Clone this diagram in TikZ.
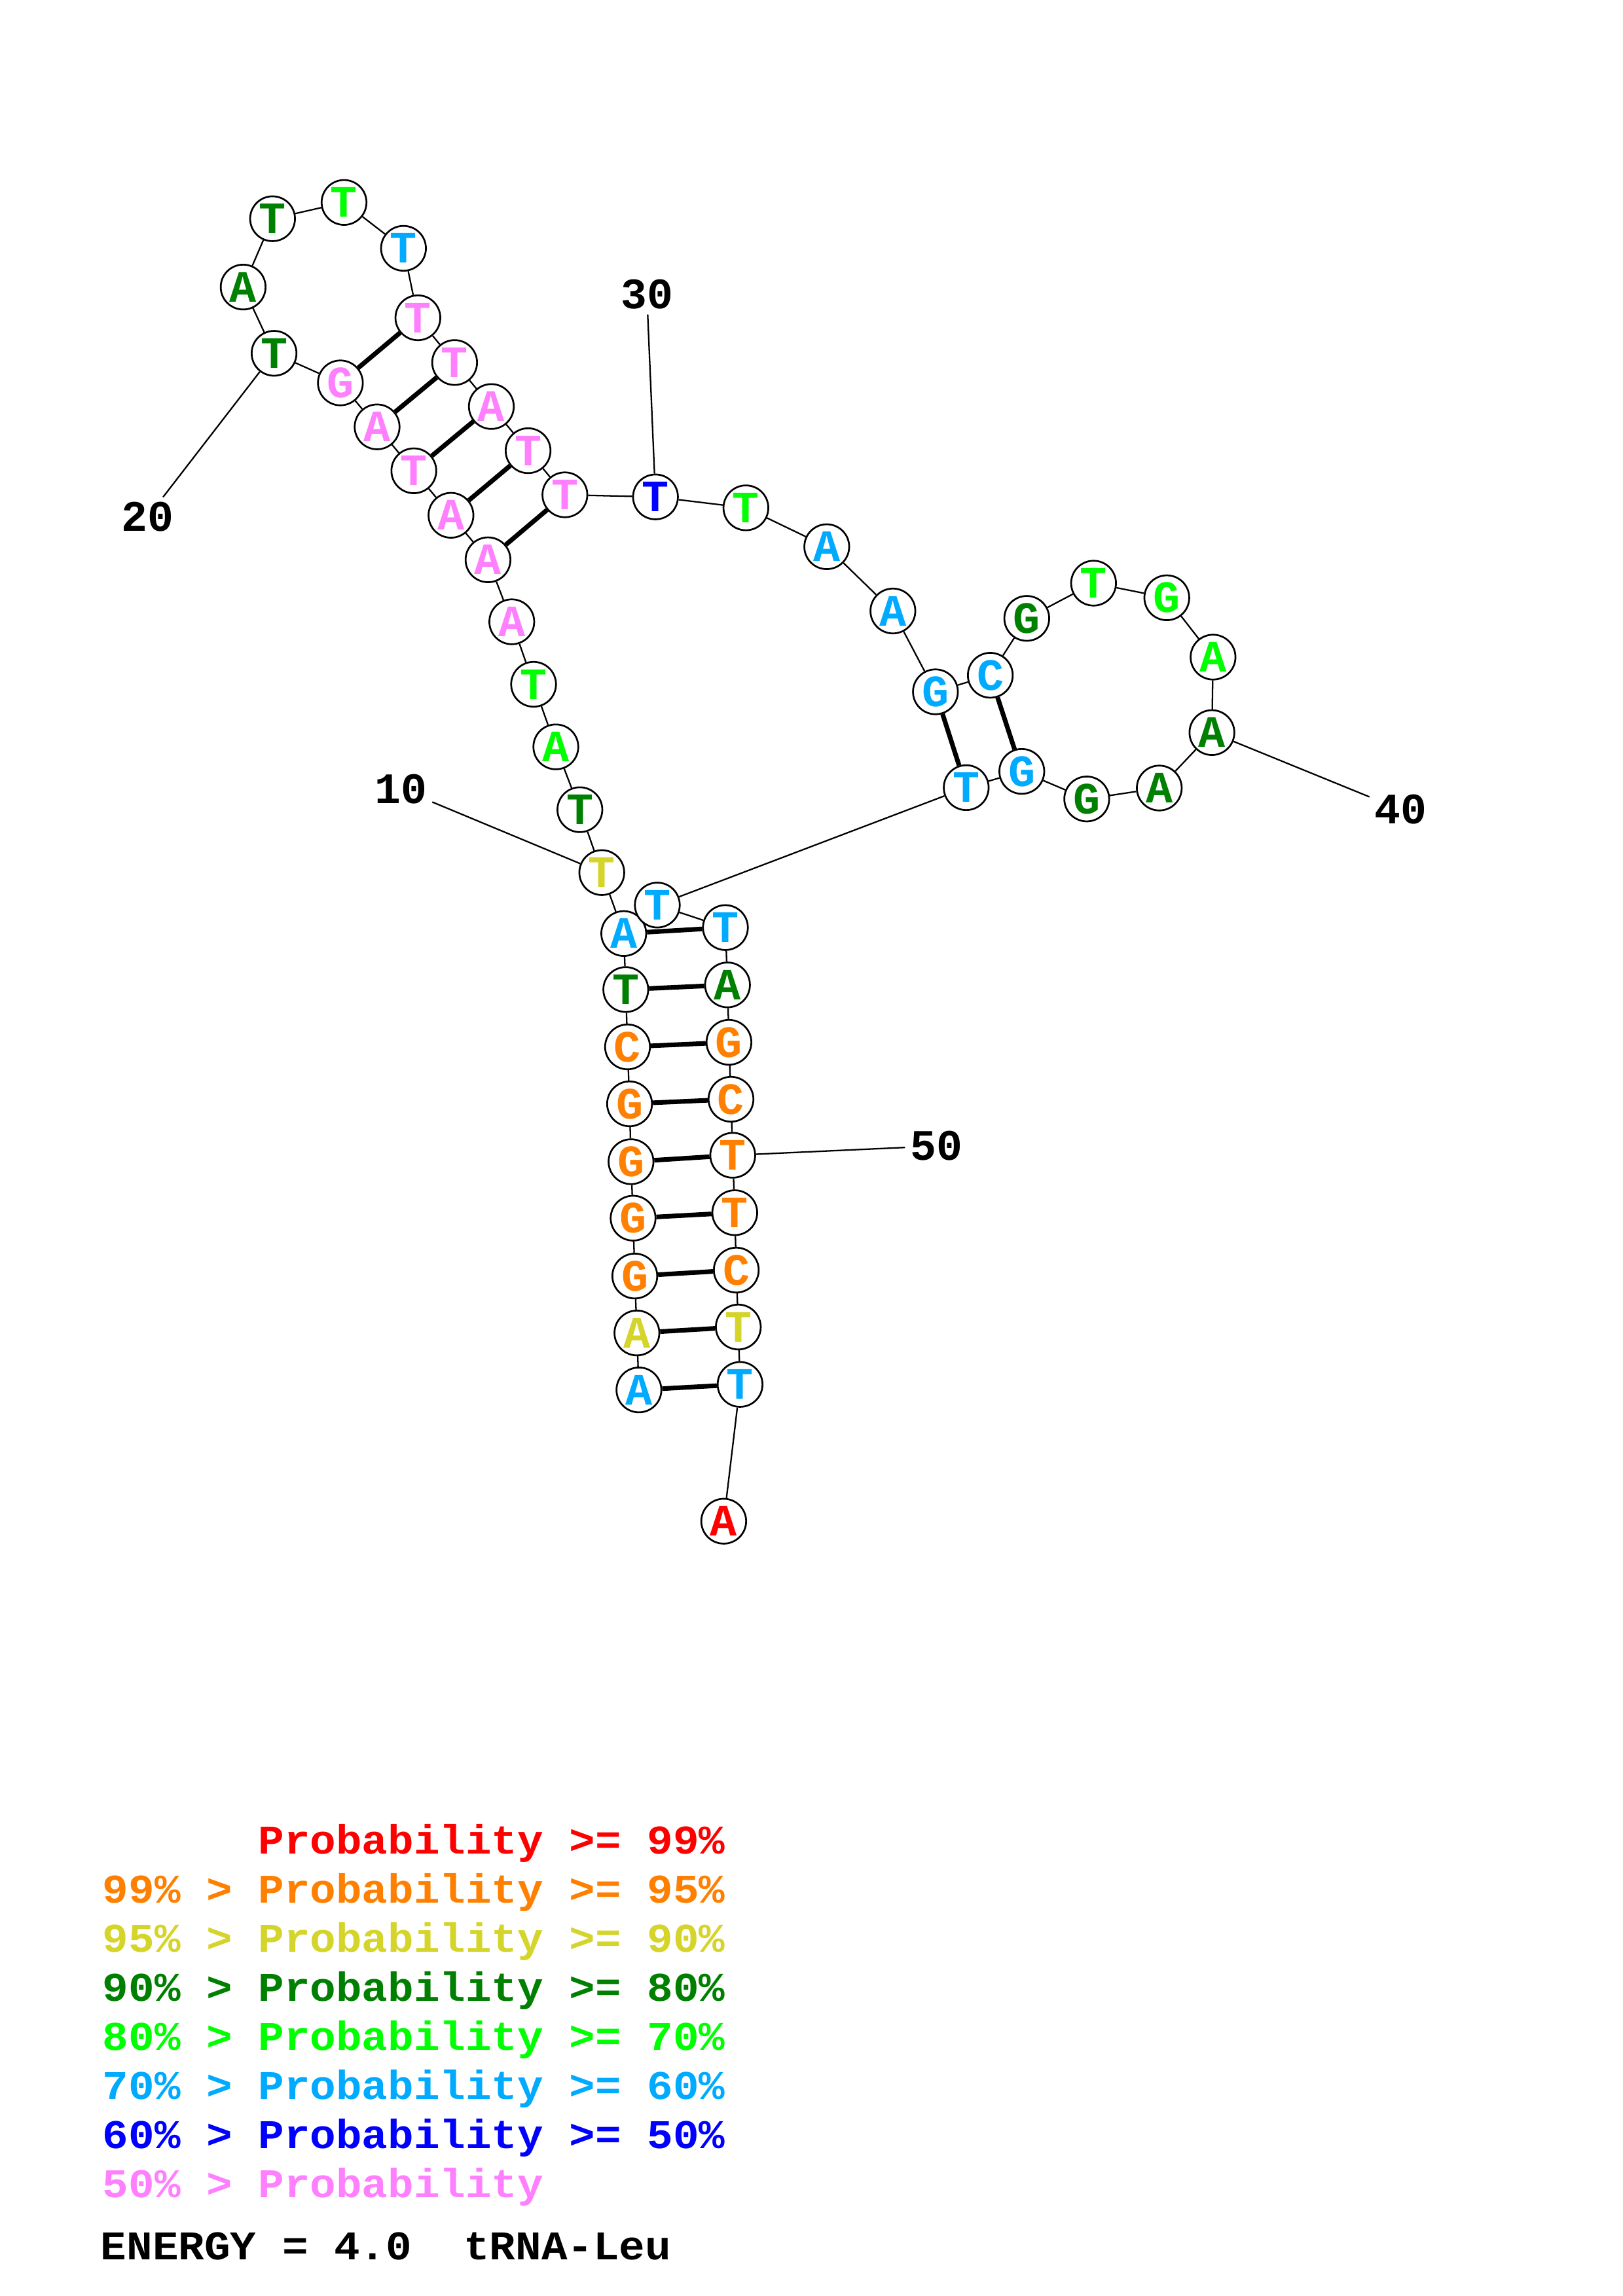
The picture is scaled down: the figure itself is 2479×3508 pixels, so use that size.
\documentclass[tikz,border=0pt]{standalone}
\usepackage{fontspec}
\usetikzlibrary{backgrounds}

\newfontfamily\rnafont{Liberation Mono}
\newfontfamily\legfont[FakeStretch=1.06]{Liberation Mono}

\definecolor{pA}{RGB}{255,0,0}
\definecolor{pB}{RGB}{255,128,0}
\definecolor{pC}{RGB}{212,212,42}
\definecolor{pD}{RGB}{0,128,0}
\definecolor{pE}{RGB}{0,255,0}
\definecolor{pF}{RGB}{0,170,255}
\definecolor{pG}{RGB}{0,0,255}
\definecolor{pH}{RGB}{255,128,255}

\tikzset{
	nt/.style={circle, draw, fill=white, line width=0.65pt, minimum size=5.8mm, inner sep=0pt,
		font=\rnafont\bfseries\fontsize{16.5pt}{16.5pt}\selectfont},
	backbone/.style={line width=0.55pt},
	basepair/.style={line width=1.7pt},
	numlabel/.style={inner sep=0.6mm, font=\rnafont\bfseries\fontsize{16pt}{16pt}\selectfont},
	legline/.style={anchor=base west, inner sep=0pt, font=\legfont\bfseries\fontsize{15pt}{15pt}\selectfont}
}

\begin{document}
\begin{tikzpicture}[x=0.084667mm, y=-0.084667mm]
		\useasboundingbox (0,0) rectangle (2479,3508);
		
		% acceptor stem, 5' side
		\node [nt, text=pF] (n1) at (975.9, 2123.6) {A};
		\node [nt, text=pC] (n2) at (972.8, 2036.6) {A};
		\node [nt, text=pB] (n3) at (969.6, 1949.6) {G};
		\node [nt, text=pB] (n4) at (967.0, 1861.2) {G};
		\node [nt, text=pB] (n5) at (963.8, 1774.9) {G};
		\node [nt, text=pB] (n6) at (961.6, 1686.5) {G};
		\node [nt, text=pB] (n7) at (958.5, 1599.5) {C};
		\node [nt, text=pD] (n8) at (955.8, 1511.9) {T};
		\node [nt, text=pF] (n9) at (952.7, 1426.3) {A};
		\node [nt, text=pC] (n10) at (919.2, 1333.2) {T};
		\node [nt, text=pD] (n11) at (885.7, 1237.1) {T};
		\node [nt, text=pE] (n12) at (849.0, 1141.1) {A};
		\node [nt, text=pE] (n13) at (815.0, 1045.5) {T};
		\node [nt, text=pH] (n14) at (781.7, 950.0) {A};
		% D arm
		\node [nt, text=pH] (n15) at (745.4, 855.3) {A};
		\node [nt, text=pH] (n16) at (688.8, 787.3) {A};
		\node [nt, text=pH] (n17) at (632.1, 719.3) {T};
		\node [nt, text=pH] (n18) at (576.0, 652.2) {A};
		\node [nt, text=pH] (n19) at (519.9, 585.0) {G};
		\node [nt, text=pD] (n20) at (418.6, 539.8) {T};
		\node [nt, text=pD] (n21) at (371.4, 438.6) {A};
		\node [nt, text=pD] (n22) at (416.3, 334.2) {T};
		\node [nt, text=pE] (n23) at (525.5, 309.3) {T};
		\node [nt, text=pF] (n24) at (616.3, 379.4) {T};
		\node [nt, text=pH] (n25) at (638.3, 485.5) {T};
		\node [nt, text=pH] (n26) at (694.4, 553.9) {T};
		\node [nt, text=pH] (n27) at (750.5, 621.1) {A};
		\node [nt, text=pH] (n28) at (806.6, 688.6) {T};
		\node [nt, text=pH] (n29) at (862.8, 756.0) {T};
		% loop to the T arm
		\node [nt, text=pG] (n30) at (1001.2, 759.2) {T};
		\node [nt, text=pE] (n31) at (1139.3, 775.9) {T};
		\node [nt, text=pF] (n32) at (1262.8, 835.3) {A};
		\node [nt, text=pF] (n33) at (1363.8, 933.5) {A};
		\node [nt, text=pF] (n34) at (1428.8, 1057.0) {G};
		\node [nt, text=pF] (n35) at (1512.6, 1031.7) {C};
		\node [nt, text=pD] (n36) at (1568.3, 944.8) {G};
		\node [nt, text=pE] (n37) at (1670.3, 891.0) {T};
		\node [nt, text=pE] (n38) at (1782.2, 913.3) {G};
		\node [nt, text=pE] (n39) at (1852.8, 1004.0) {A};
		\node [nt, text=pD] (n40) at (1851.1, 1119.3) {A};
		\node [nt, text=pD] (n41) at (1770.7, 1204.0) {A};
		\node [nt, text=pD] (n42) at (1659.9, 1220.7) {G};
		\node [nt, text=pF] (n43) at (1560.7, 1178.6) {G};
		\node [nt, text=pF] (n44) at (1475.8, 1203.4) {T};
		% acceptor stem, 3' side
		\node [nt, text=pF] (n45) at (1004.0, 1382.8) {T};
		\node [nt, text=pF] (n46) at (1108.0, 1417.2) {T};
		\node [nt, text=pD] (n47) at (1111.2, 1504.8) {A};
		\node [nt, text=pB] (n48) at (1113.4, 1592.5) {G};
		\node [nt, text=pB] (n49) at (1116.5, 1679.5) {C};
		\node [nt, text=pB] (n50) at (1119.2, 1765.1) {T};
		\node [nt, text=pB] (n51) at (1122.3, 1852.8) {T};
		\node [nt, text=pB] (n52) at (1124.6, 1940.5) {C};
		\node [nt, text=pC] (n53) at (1127.7, 2027.5) {T};
		\node [nt, text=pF] (n54) at (1130.4, 2115.2) {T};
		\node [nt, text=pA] (n55) at (1105.4, 2324.2) {A};
		
		\node [numlabel] (lab10) at (612.5, 1205.5) {10};
		\node [numlabel] (lab20) at (225.5, 790.0) {20};
		\node [numlabel] (lab30) at (988.0, 450.0) {30};
		\node [numlabel] (lab40) at (2139.5, 1237.0) {40};
		\node [numlabel] (lab50) at (1430.0, 1751.0) {50};
		
		\begin{scope}[on background layer]
		\draw [backbone] (n1) -- (n2) -- (n3) -- (n4) -- (n5) -- (n6) -- (n7) -- (n8) -- (n9) -- (n10)
			-- (n11) -- (n12) -- (n13) -- (n14) -- (n15) -- (n16) -- (n17) -- (n18) -- (n19) -- (n20)
			-- (n21) -- (n22) -- (n23) -- (n24) -- (n25) -- (n26) -- (n27) -- (n28) -- (n29) -- (n30)
			-- (n31) -- (n32) -- (n33) -- (n34) -- (n35) -- (n36) -- (n37) -- (n38) -- (n39) -- (n40)
			-- (n41) -- (n42) -- (n43) -- (n44) -- (n45) -- (n46) -- (n47) -- (n48) -- (n49) -- (n50)
			-- (n51) -- (n52) -- (n53) -- (n54) -- (n55);
		\draw [basepair] (n1) -- (n54);
		\draw [basepair] (n2) -- (n53);
		\draw [basepair] (n3) -- (n52);
		\draw [basepair] (n4) -- (n51);
		\draw [basepair] (n5) -- (n50);
		\draw [basepair] (n6) -- (n49);
		\draw [basepair] (n7) -- (n48);
		\draw [basepair] (n8) -- (n47);
		\draw [basepair] (n9) -- (n46);
		\draw [basepair] (n15) -- (n29);
		\draw [basepair] (n16) -- (n28);
		\draw [basepair] (n17) -- (n27);
		\draw [basepair] (n18) -- (n26);
		\draw [basepair] (n19) -- (n25);
		\draw [basepair] (n34) -- (n44);
		\draw [basepair] (n35) -- (n43);
		\draw [backbone] (n10) -- (lab10);
		\draw [backbone] (n20) -- (lab20);
		\draw [backbone] (n30) -- (lab30);
		\draw [backbone] (n40) -- (lab40);
		\draw [backbone] (n50) -- (lab50);
		\end{scope}
		
		% legend
		\node [legline, text=pA] (leg1) at (156, 2832) {\hphantom{99\% > }Probability >= 99\%};
		\node [legline, text=pB] (leg2) at (156, 2907) {99\% > Probability >= 95\%};
		\node [legline, text=pC] (leg3) at (156, 2982) {95\% > Probability >= 90\%};
		\node [legline, text=pD] (leg4) at (156, 3057) {90\% > Probability >= 80\%};
		\node [legline, text=pE] (leg5) at (156, 3132) {80\% > Probability >= 70\%};
		\node [legline, text=pF] (leg6) at (156, 3207) {70\% > Probability >= 60\%};
		\node [legline, text=pG] (leg7) at (156, 3282) {60\% > Probability >= 50\%};
		\node [legline, text=pH] (leg8) at (156, 3357) {50\% > Probability};
		\node [legline] (energy) at (153, 3452) {ENERGY = 4.0\ \ tRNA-Leu};
\end{tikzpicture}
\end{document}
